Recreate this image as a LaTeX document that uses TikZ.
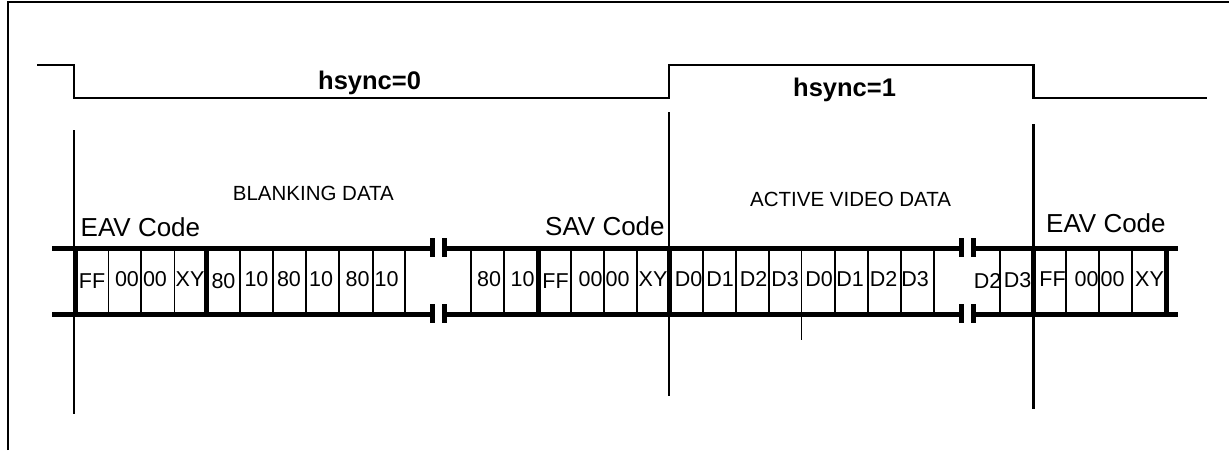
\documentclass[tikz,border=0pt]{standalone}
\usepackage{fontspec}
\setmainfont{Liberation Sans}
\begin{document}
\begin{tikzpicture}[x=1pt,y=-1pt,
  framel/.style={line width=2.6pt, line join=miter},
  wave/.style={line width=2.3pt, line join=miter},
  marker/.style={line width=2.3pt},
  busline/.style={line width=5pt},
  thickdiv/.style={line width=5pt},
  thindiv/.style={line width=1.5pt},
  breakbar/.style={line width=5pt},
  celltxt/.style={inner sep=0pt, anchor=base, font=\fontsize{21.5}{21.5}\selectfont},
  codetxt/.style={inner sep=0pt, anchor=base west, font=\fontsize{26}{26}\selectfont},
  datatxt/.style={inner sep=0pt, anchor=base west, font=\fontsize{20.5}{20.5}\selectfont},
  synctxt/.style={inner sep=0pt, anchor=base west, font=\bfseries\fontsize{25.5}{25.5}\selectfont}]
\useasboundingbox (0,0) rectangle (1229,450);
% frame
\draw[framel] (8,450) -- (8,2) -- (1229,2);
% hsync waveform
\draw[wave] (37,65) -- (74,65) -- (74,98) -- (669,98) -- (669,65) -- (1033.5,65) -- (1033.5,98) -- (1207,98);
\node[synctxt] (h0) at (318,89.3) {hsync=0};
\node[synctxt] (h1) at (793,96.7) {hsync=1};
% markers
\draw[marker] (74,130) -- (74,414);
\draw[marker] (669,112) -- (669,396);
\draw[marker] (1033.5,124) -- (1033.5,409);
% labels
\node[datatxt] (blank) at (232.7,200.7) {BLANKING DATA};
\node[datatxt] (active) at (750,206.7) {ACTIVE VIDEO DATA};
\node[codetxt] (eav1) at (80.5,236) {EAV Code};
\node[codetxt] (sav) at (545,235) {SAV Code};
\node[codetxt] (eav2) at (1046,232.7) {EAV Code};
% bus lines
\foreach \ya in {248.3,314} {
  \draw[busline] (52,\ya) -- (432,\ya);
  \draw[busline] (444,\ya) -- (961,\ya);
  \draw[busline] (973.5,\ya) -- (1178,\ya);
}
% break bars
\foreach \xb in {432,444,961,973.5} {
  \draw[breakbar] (\xb,238.3) -- (\xb,256.7);
  \draw[breakbar] (\xb,304) -- (\xb,322.7);
}
% thick dividers
\foreach \xd in {75,206.5,538,669,1033.5,1166.5} {
  \draw[thickdiv] (\xd,246) -- (\xd,316.5);
}
% thin dividers
\foreach \xd in {108.3,141,174.3,240,273,306,339,373,405,471,504,571,604,637,703,736,769,835,868,901,934,1000,1066,1099,1132} {
  \draw[thindiv] (\xd,248) -- (\xd,314);
}
\draw[thindiv] (801.5,248) -- (801.5,340);
% cell texts
\foreach [count=\i] \xc/\tc/\bc in {
  92/FF/288, 127/00/286, 155/00/286, 190/XY/286,
  223.5/80/288.5, 256.5/10/286.5, 289/80/286.5, 321/10/286.5, 357.5/80/286.5, 386.5/10/286.5,
  489/80/286.5, 522.5/10/286.5, 555.5/FF/288, 590.5/00/286, 617.5/00/286, 653/XY/286,
  688.5/D0/286, 720/D1/286, 753.5/D2/286, 785/D3/286, 819/D0/286, 850/D1/286, 883.5/D2/286, 915/D3/286,
  987.5/D2/288.5, 1017.5/D3/287, 1052.5/FF/286, 1086.5/00/286, 1112.5/00/286, 1149.5/XY/286} {
  \node[celltxt] (cell\i) at (\xc,\bc) {\tc};
}
\end{tikzpicture}
\end{document}
